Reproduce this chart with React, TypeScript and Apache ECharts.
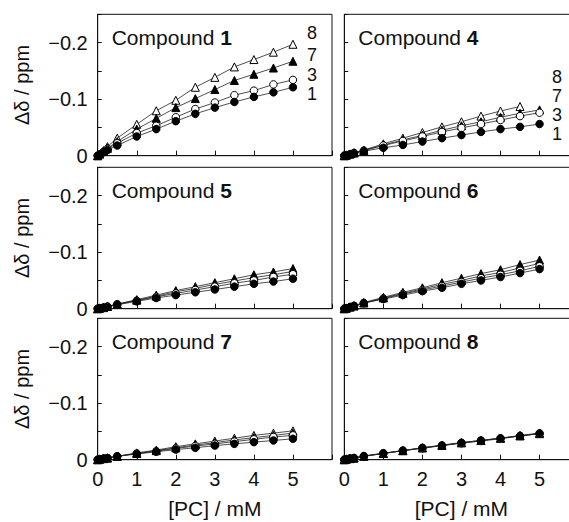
import React, { useEffect, useRef } from "react";
import * as echarts from "echarts";

// [PC] / mM
const concentrations = [0, 0.05, 0.15, 0.25, 0.5, 1, 1.5, 2, 2.5, 3, 3.5, 4, 4.5, 5];

const compoundIds = ["1", "4", "5", "6", "7", "8"];
const seriesIds = ["8", "7", "3", "1"];

// Δδ / ppm for each compound (series 8, 7, 3, 1)
const c1_s8 = [0, -0.003, -0.009, -0.016, -0.031, -0.0555, -0.0795, -0.098, -0.121, -0.1385, -0.157, -0.17, -0.183, -0.197];
const c1_s7 = [0, -0.003, -0.008, -0.013, -0.025, -0.047, -0.066, -0.085, -0.101, -0.117, -0.133, -0.144, -0.155, -0.167];
const c1_s3 = [0, -0.002, -0.007, -0.012, -0.022, -0.04, -0.053, -0.068, -0.0825, -0.094, -0.107, -0.115, -0.126, -0.134];
const c1_s1 = [0, -0.002, -0.006, -0.01, -0.018, -0.034, -0.047, -0.061, -0.074, -0.085, -0.095, -0.104, -0.112, -0.121];

const c4_s8 = [0, -0.001, -0.003, -0.005, -0.01, -0.021, -0.031, -0.041, -0.051, -0.06, -0.07, -0.079, -0.087];
const c4_s7 = [0, -0.001, -0.003, -0.005, -0.009, -0.019, -0.028, -0.036, -0.045, -0.053, -0.06, -0.068, -0.075, -0.081];
const c4_s3 = [0, -0.001, -0.003, -0.005, -0.009, -0.018, -0.026, -0.034, -0.042, -0.049, -0.056, -0.063, -0.07, -0.076];
const c4_s1 = [0, -0.001, -0.002, -0.004, -0.008, -0.014, -0.019, -0.025, -0.031, -0.0365, -0.042, -0.047, -0.051, -0.056];

const c5_s8 = [0, -0.001, -0.002, -0.004, -0.008, -0.015, -0.022, -0.03, -0.036, -0.043, -0.049, -0.055, -0.06, -0.066];
const c5_s7 = [0, -0.001, -0.002, -0.004, -0.008, -0.016, -0.024, -0.032, -0.039, -0.046, -0.053, -0.06, -0.065, -0.071];
const c5_s3 = [0, -0.001, -0.002, -0.004, -0.008, -0.014, -0.021, -0.027, -0.033, -0.039, -0.045, -0.05, -0.056, -0.061];
const c5_s1 = [0, -0.001, -0.002, -0.003, -0.007, -0.013, -0.019, -0.024, -0.029, -0.034, -0.039, -0.044, -0.048, -0.053];

const c6_s8 = [0, -0.001, -0.003, -0.005, -0.01, -0.019, -0.027, -0.035, -0.043, -0.05, -0.058, -0.064, -0.072, -0.08];
const c6_s7 = [0, -0.001, -0.003, -0.005, -0.011, -0.02, -0.029, -0.037, -0.046, -0.054, -0.062, -0.069, -0.078, -0.086];
const c6_s3 = [0, -0.001, -0.003, -0.005, -0.01, -0.018, -0.026, -0.033, -0.04, -0.047, -0.054, -0.06, -0.067, -0.075];
const c6_s1 = [0, -0.001, -0.003, -0.005, -0.01, -0.017, -0.024, -0.031, -0.037, -0.044, -0.05, -0.056, -0.063, -0.07];

const c7_s8 = [0, -0.001, -0.002, -0.003, -0.006, -0.012, -0.017, -0.023, -0.028, -0.033, -0.038, -0.043, -0.047, -0.051];
const c7_s7 = [0, -0.001, -0.002, -0.003, -0.006, -0.011, -0.016, -0.021, -0.026, -0.03, -0.035, -0.039, -0.043, -0.047];
const c7_s3 = [0, -0.001, -0.002, -0.003, -0.006, -0.011, -0.015, -0.02, -0.024, -0.028, -0.032, -0.036, -0.04, -0.043];
const c7_s1 = [0, -0.001, -0.002, -0.003, -0.006, -0.01, -0.014, -0.018, -0.021, -0.025, -0.028, -0.031, -0.034, -0.037];

const c8_s8 = [0, -0.001, -0.002, -0.003, -0.0065, -0.011, -0.016, -0.021, -0.025, -0.03, -0.034, -0.038, -0.042, -0.046];
const c8_s7 = [0, -0.001, -0.002, -0.003, -0.006, -0.011, -0.016, -0.021, -0.026, -0.03, -0.034, -0.038, -0.043, -0.047];
const c8_s3 = [0, -0.001, -0.002, -0.003, -0.006, -0.011, -0.016, -0.02, -0.025, -0.029, -0.033, -0.037, -0.042, -0.046];
const c8_s1 = [0, -0.001, -0.002, -0.003, -0.0065, -0.0115, -0.016, -0.021, -0.025, -0.03, -0.034, -0.038, -0.042, -0.0465];

const panelData = [
  [c1_s8, c1_s7, c1_s3, c1_s1],
  [c4_s8, c4_s7, c4_s3, c4_s1],
  [c5_s8, c5_s7, c5_s3, c5_s1],
  [c6_s8, c6_s7, c6_s3, c6_s1],
  [c7_s8, c7_s7, c7_s3, c7_s1],
  [c8_s8, c8_s7, c8_s3, c8_s1],
];

const xTickLabels = ["0", "1", "2", "3", "4", "5"];
const yTickLabels: Record<string, string> = { "0": "0", "-10": "\u22120.1", "-20": "\u22120.2" };

const FONT = "'Liberation Sans', Arial, Helvetica, sans-serif";

export default function App() {
  const ref = useRef<HTMLDivElement>(null);

  useEffect(() => {
    if (!ref.current) return;
    const chart = echarts.init(ref.current, undefined, { renderer: "svg" });

    const colLeft = [97.7, 344.3];
    const colWidth = 234.3;
    const rowTop = [14.3, 167.3, 318.3];
    const rowHeight = 141.4;

    const grids: any[] = [];
    const xAxes: any[] = [];
    const yAxes: any[] = [];
    const series: any[] = [];
    const graphics: any[] = [];

    const markerStyles = [
      { symbol: "triangle", size: 8, fill: "#ffffff" },
      { symbol: "triangle", size: 8, fill: "#000000" },
      { symbol: "circle", size: 7.5, fill: "#ffffff" },
      { symbol: "circle", size: 7.5, fill: "#000000" },
    ];

    compoundIds.forEach((cid, p) => {
      const col = p % 2;
      const row = Math.floor(p / 2);
      const left = colLeft[col];
      const top = rowTop[row];
      grids.push({
        left,
        top,
        width: colWidth,
        height: rowHeight,
        show: true,
        borderColor: "#111",
        borderWidth: 1,
        backgroundColor: "transparent",
        containLabel: false,
      });
      const bottomRow = row === 2;
      xAxes.push({
        type: "value",
        gridIndex: p,
        min: 0,
        max: 6,
        interval: 1,
        axisLine: { show: true, onZero: false, lineStyle: { color: "#111", width: 1 } },
        axisTick: { show: true, inside: true, length: 5, lineStyle: { color: "#111", width: 1 } },
        splitLine: { show: false },
        axisLabel: {
          show: bottomRow,
          margin: 9,
          fontSize: 20,
          fontFamily: FONT,
          color: "#111",
          formatter: (v: number) => (v <= 5 ? xTickLabels[Math.round(v)] : ""),
        },
        name: bottomRow ? "[PC] / mM" : "",
        nameLocation: "middle",
        nameGap: 38,
        nameTextStyle: { fontSize: 21, fontFamily: FONT, color: "#111" },
      });
      yAxes.push({
        type: "value",
        gridIndex: p,
        min: -0.25,
        max: 0,
        interval: 0.05,
        inverse: true,
        axisLine: { show: true, onZero: false, lineStyle: { color: "#111", width: 1 } },
        axisTick: { show: true, inside: true, length: 4, lineStyle: { color: "#111", width: 1 } },
        splitLine: { show: false },
        axisLabel: {
          show: col === 0,
          margin: 10,
          fontSize: 20,
          fontFamily: FONT,
          color: "#111",
          formatter: (v: number) => yTickLabels[String(Math.round(v * 100))] ?? "",
        },
        name: col === 0 ? "\u0394\u03b4 / ppm" : "",
        nameLocation: "middle",
        nameRotate: 90,
        nameGap: 66,
        nameTextStyle: { fontSize: 20, fontFamily: FONT, color: "#111" },
      });

      panelData[p].forEach((vals, s) => {
        const ms = markerStyles[s];
        series.push({
          type: "line",
          name: `Compound ${cid} / ${seriesIds[s]}`,
          xAxisIndex: p,
          yAxisIndex: p,
          data: vals.map((v, i) => [concentrations[i], v]),
          symbol: ms.symbol,
          symbolSize: ms.size,
          showSymbol: true,
          showAllSymbol: true,
          lineStyle: { color: "#222", width: 0.8 },
          itemStyle: { color: ms.fill, borderColor: "#000", borderWidth: 1, opacity: 1 },
          z: 2 + s,
          clip: false,
        });
      });

      graphics.push({
        type: "text",
        left: left + 14,
        top: top + 13,
        style: {
          text: `{a|Compound }{b|${cid}}`,
          rich: {
            a: { fontSize: 21, fontFamily: FONT, fill: "#111" },
            b: { fontSize: 21, fontFamily: FONT, fontWeight: "bold", fill: "#111" },
          },
        },
      });
    });

    // series labels beside the curves (panels of compounds 1 and 4)
    const labelPos = [
      { x: 312, ys: [33, 55, 75, 94] },
      { x: 557, ys: [77, 96, 115, 134] },
    ];
    labelPos.forEach((lp) => {
      seriesIds.forEach((sid, i) => {
        graphics.push({
          type: "text",
          x: lp.x,
          y: lp.ys[i],
          style: {
            text: sid,
            fontSize: 18,
            lineHeight: 18,
            fontFamily: FONT,
            fill: "#111",
            align: "center",
            verticalAlign: "middle",
          },
        });
      });
    });

    chart.setOption({
      animation: false,
      backgroundColor: "#ffffff",
      grid: grids,
      xAxis: xAxes,
      yAxis: yAxes,
      series,
      graphic: graphics,
    });

    return () => chart.dispose();
  }, []);

  return (
    <div
      style={{ position: "absolute", left: 0, top: 0, width: 569, height: 522, overflow: "hidden", background: "#fff" }}
    >
      <div ref={ref} style={{ position: "absolute", left: 0, top: 0, width: 600, height: 522 }} />
    </div>
  );
}
